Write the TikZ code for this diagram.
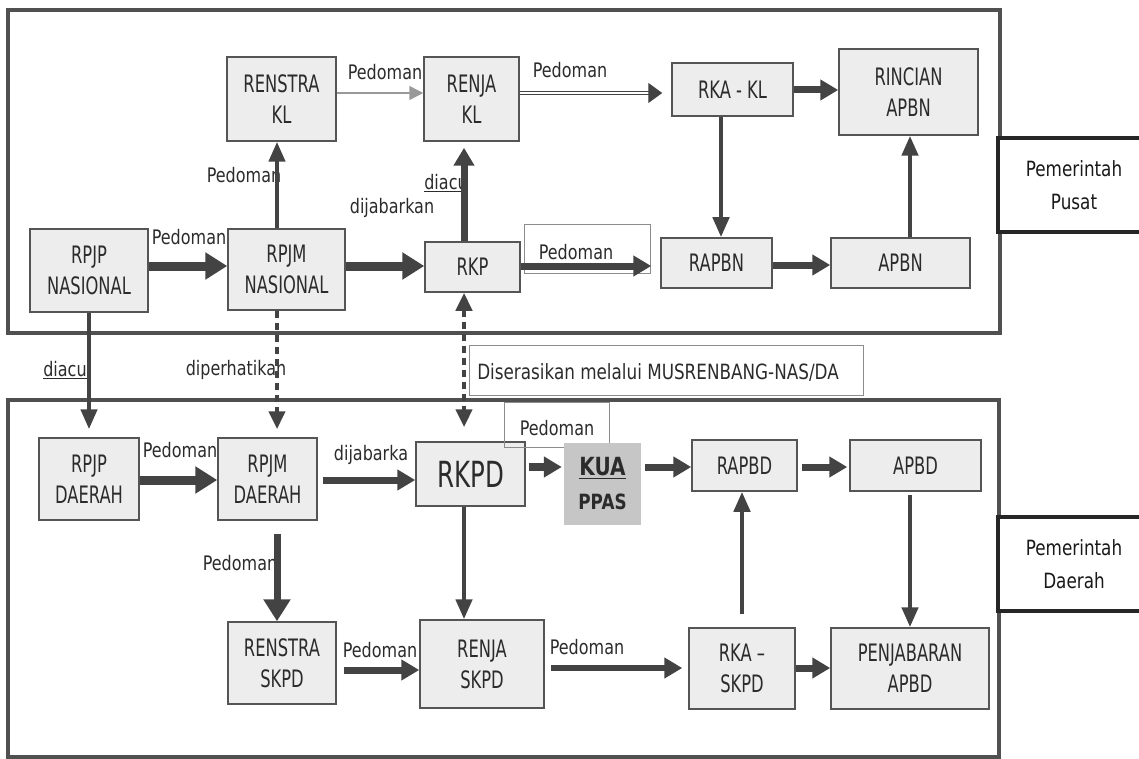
\documentclass[tikz,border=0pt]{standalone}
\usepackage{fontspec}
\usetikzlibrary{arrows.meta}
\newfontfamily\boxfont[FakeStretch=0.68]{DejaVu Sans}
\newfontfamily\lblfont[FakeStretch=0.8]{DejaVu Sans}
\definecolor{frm}{HTML}{505050}
\definecolor{boxfill}{HTML}{EDEDED}
\definecolor{boxline}{HTML}{555555}
\definecolor{arr}{HTML}{434343}
\definecolor{txt}{HTML}{2B2B2B}
\definecolor{kuafill}{HTML}{C6C6C6}
\definecolor{thin}{HTML}{8C8C8C}
\tikzset{
  frame/.style={draw=frm, line width=4pt},
  thinbox/.style={draw=thin, line width=1pt},
  plan/.style={draw=boxline, fill=boxfill, line width=1.5pt, inner sep=0pt, align=center,
    text=txt, font=\boxfont\fontsize{24}{31}\selectfont},
  side/.style={draw=black!85, fill=white, line width=3.5pt, minimum width=152pt,
    minimum height=94pt, align=center, text=black!90, font=\lblfont\fontsize{21}{33}\selectfont},
  lbl/.style={text=txt, inner sep=0pt, font=\lblfont\fontsize{20}{24}\selectfont},
  fatarrow/.style={draw=arr, line width=9pt, -{Triangle[length=22pt,width=26pt]}},
  midarrow/.style={draw=arr, line width=7pt, -{Triangle[length=18pt,width=20pt]}},
  slimarrow/.style={draw=arr, line width=4.5pt, -{Triangle[length=20pt,width=16pt]}},
  greyarrow/.style={draw=black!40, line width=1.5pt, -{Triangle[length=14pt,width=14pt]}},
  dblarrow/.style={draw=arr, line width=1.2pt, double=white, double distance=2pt,
    -{Triangle[length=14pt,width=20pt]}},
  dotarrow/.style={draw=arr, line width=4.5pt, dash pattern=on 7pt off 5pt,
    -{Triangle[length=18pt,width=16pt]}},
}
\begin{document}
\begin{tikzpicture}[x=1pt,y=-1pt]
\useasboundingbox (0,0) rectangle (1139,759);
%% frames and side boxes
\draw[frame] (8,10) rectangle (1000,333);
\draw[frame] (8,400) rectangle (999,757);
\node[side] (pusat) at (1074,185) {Pemerintah\\Pusat};
\node[side] (daerah) at (1074,564) {Pemerintah\\Daerah};
\draw[thinbox] (524,225) rectangle (650,273);
\draw[thinbox] (469,345) rectangle (863,395);

%% pusat
\node[plan, minimum width=118pt, minimum height=83pt] (rpjpnas) at (89,270.5) {RPJP\\NASIONAL};
\node[plan, minimum width=117pt, minimum height=81pt] (rpjmnas) at (286.5,269.5) {RPJM\\NASIONAL};
\node[plan, minimum width=109pt, minimum height=84pt] (renstrakl) at (281.5,99) {RENSTRA\\KL};
\node[plan, minimum width=95pt, minimum height=84pt] (renjakl) at (471.5,99) {RENJA\\KL};
\node[plan, minimum width=95pt, minimum height=50pt] (rkp) at (472.5,267) {RKP};
\node[plan, minimum width=121pt, minimum height=53pt] (rkakl) at (732.5,89.5) {RKA - KL};
\node[plan, minimum width=139pt, minimum height=86pt] (rincian) at (908.5,92) {RINCIAN\\APBN};
\node[plan, minimum width=111pt, minimum height=50pt] (rapbn) at (716.5,263) {RAPBN};
\node[plan, minimum width=139pt, minimum height=50pt] (apbn) at (900.5,263) {APBN};

%% daerah
\node[plan, minimum width=100pt, minimum height=82pt] (rpjpd) at (89,479) {RPJP\\DAERAH};
\node[plan, minimum width=99pt, minimum height=82pt] (rpjmd) at (267.5,479) {RPJM\\DAERAH};
\node[plan, minimum width=109pt, minimum height=64pt, font=\boxfont\fontsize{36}{40}\selectfont] (rkpd) at (470.5,474) {RKPD};
\draw[thinbox] (504,402) rectangle (609,447);
\node[fill=kuafill, minimum width=77pt, minimum height=82pt, inner sep=0pt, align=center, text=txt,
  font=\lblfont\bfseries\fontsize{25}{34}\selectfont] (kua) at (602.5,484) {\underline{KUA}\\{\fontsize{21}{22}\selectfont PPAS}};
\node[plan, minimum width=105pt, minimum height=51pt] (rapbd) at (744.5,465.5) {RAPBD};
\node[plan, minimum width=131pt, minimum height=51pt] (apbd) at (915.5,465.5) {APBD};
\node[plan, minimum width=108pt, minimum height=82pt] (renstraskpd) at (282,663) {RENSTRA\\SKPD};
\node[plan, minimum width=124pt, minimum height=88pt] (renjaskpd) at (482,664) {RENJA\\SKPD};
\node[plan, minimum width=106pt, minimum height=81pt] (rkaskpd) at (742,668.5) {RKA –\\SKPD};
\node[plan, minimum width=158pt, minimum height=81pt] (penjabaran) at (910,668.5) {PENJABARAN\\APBD};

%% labels
\node[lbl] (l1) at (189,237) {Pedoman};
\node[lbl] (l2) at (244,175) {Pedoman};
\node[lbl] (l3) at (385,72) {Pedoman};
\node[lbl] (l4) at (570,70) {Pedoman};
\node[lbl] (l5) at (446,183) {\underline{diacu}};
\node[lbl] (l6) at (392,208) {dijabarkan};
\node[lbl] (l7) at (576,252) {Pedoman};
\node[lbl] (l8) at (65,370) {\underline{diacu}};
\node[lbl] (l9) at (236,370) {diperhatikan};
\node[lbl, font=\lblfont\fontsize{21}{24}\selectfont] (l10) at (658,372) {Diserasikan melalui MUSRENBANG-NAS/DA};
\node[lbl] (l11) at (180,450) {Pedoman};
\node[lbl] (l12) at (371,455) {dijabarka};
\node[lbl] (l13) at (557,428) {Pedoman};
\node[lbl] (l14) at (240,563) {Pedoman};
\node[lbl] (l15) at (380,650) {Pedoman};
\node[lbl] (l16) at (587,647) {Pedoman};

%% arrows, pusat
\draw[fatarrow] (rpjpnas.east |- 0,266) -- (rpjmnas.west |- 0,266);
\draw[fatarrow] (rpjmnas.east |- 0,266) -- (rkp.west |- 0,266);
\draw[slimarrow] (rpjmnas.north -| 277,0) -- (renstrakl.south -| 277,0);
\draw[greyarrow] (renstrakl.east |- 0,93) -- (renjakl.west |- 0,93);
\draw[dblarrow, shorten >=9pt] (renjakl.east |- 0,93) -- (rkakl.west |- 0,93);
\draw[midarrow, shorten >=6pt] (rkp.north -| 464,0) -- (renjakl.south -| 464,0);
\draw[midarrow] (rkakl.east |- 0,90) -- (rincian.west |- 0,90);
\draw[slimarrow] (rkakl.south -| 721,0) -- (rapbn.north -| 721,0);
\draw[slimarrow] (apbn.north -| 910,0) -- (rincian.south -| 910,0);
\draw[midarrow] (rapbn.east |- 0,265) -- (apbn.west |- 0,265);
\draw[midarrow, shorten >=9pt] (rkp.east |- 0,266) -- (rapbn.west |- 0,266);

%% pusat to daerah
\draw[slimarrow, shorten >=8pt] (rpjpnas.south) -- (rpjpd.north);
\draw[dotarrow, shorten >=8pt] (rpjmnas.south -| 277,0) -- (rpjmd.north -| 277,0);
\draw[dotarrow, {Triangle[length=18pt,width=16pt]}-{Triangle[length=18pt,width=16pt]}, shorten >=14pt]
  (rkp.south -| 464,0) -- (rkpd.north -| 464,0);

%% arrows, daerah
\draw[fatarrow] (rpjpd.east |- 0,480) -- (rpjmd.west |- 0,480);
\draw[midarrow, shorten <=5pt] (rpjmd.east |- 0,480) -- (rkpd.west |- 0,480);
\draw[midarrow, line width=8pt, shorten <=3pt, shorten >=2pt] (rkpd.east |- 0,467) -- (kua.west |- 0,467);
\draw[midarrow, shorten <=4pt] (kua.east |- 0,467) -- (rapbd.west |- 0,467);
\draw[midarrow, shorten <=4pt, shorten >=2pt] (rapbd.east |- 0,467) -- (apbd.west |- 0,467);
\draw[fatarrow, line width=7pt, shorten <=13pt] (rpjmd.south -| 277,0) -- (renstraskpd.north -| 277,0);
\draw[slimarrow] (rkpd.south -| 464,0) -- (renjaskpd.north -| 464,0);
\draw[midarrow, shorten <=7pt] (renstraskpd.east |- 0,670) -- (renjaskpd.west |- 0,670);
\draw[midarrow, line width=6pt, shorten <=6pt, shorten >=6pt] (renjaskpd.east |- 0,668) -- (rkaskpd.west |- 0,668);
\draw[slimarrow, shorten <=13pt] (rkaskpd.north) -- (rkaskpd.north |- rapbd.south);
\draw[midarrow] (rkaskpd.east |- 0,668) -- (penjabaran.west |- 0,668);
\draw[slimarrow, shorten <=3pt] (apbd.south -| 910,0) -- (penjabaran.north -| 910,0);
\end{tikzpicture}
\end{document}
